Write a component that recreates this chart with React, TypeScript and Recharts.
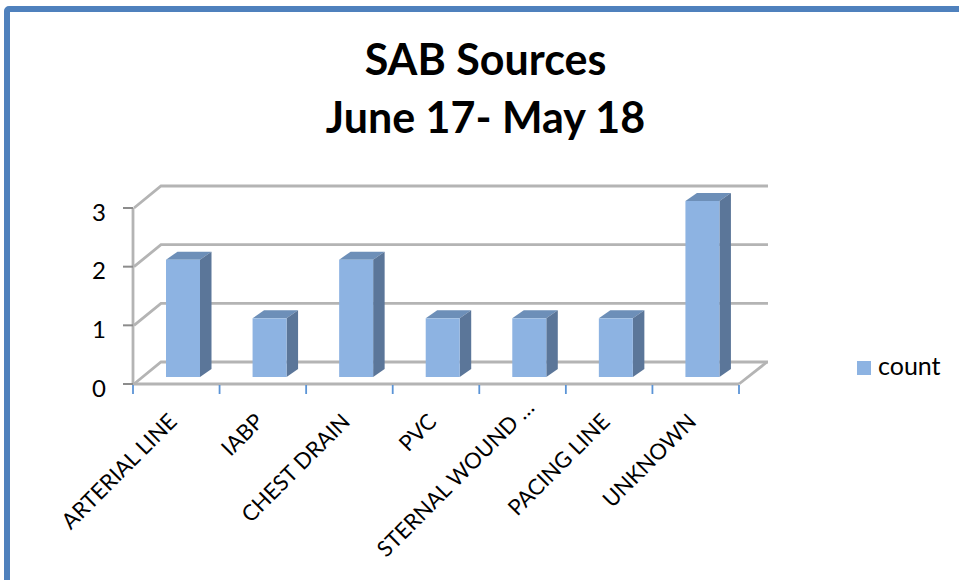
import { BarChart, Bar, XAxis, YAxis, CartesianGrid, Legend } from 'recharts'

const categories = ['ARTERIAL LINE', 'IABP', 'CHEST DRAIN', 'PVC', 'STERNAL WOUND …', 'PACING LINE', 'UNKNOWN']
const counts = [2, 1, 2, 1, 1, 1, 3]
const yTicks = [0, 1, 2, 3]
const titleLines = ['SAB Sources', 'June 17- May 18']

const data = categories.map((name, i) => ({ name, count: counts[i] }))

const FONT = 'Lato, "Open Sans", sans-serif'
const GRID = '#b4b4b4'
const BLUE = '#8db3e2'
const BACK_X = 28
const BACK_Y = 22
const BAND = 606 / categories.length

// back wall line plus the diagonal running down to the y axis
function GridLine(props: any) {
  const { x1, x2, y1, index } = props
  return (
    <g key={`grid-${index}`} fill="none" stroke={GRID} strokeWidth={2.8}>
      <path d={`M${x1 + 1} ${y1} L${x1 + BACK_X} ${y1 - BACK_Y} L${x2 + BACK_X + 1} ${y1 - BACK_Y}`} />
      {index === 0 && <path d={`M${x2} ${y1} L${x2 + BACK_X} ${y1 - BACK_Y}`} />}
    </g>
  )
}

function Bar3D(props: any) {
  const { x, y, width, height } = props
  const left = x + 7
  const top = y - 7
  const right = left + width
  const bottom = top + height
  const dx = 11.5
  const dy = 8
  return (
    <g>
      <path d={`M${left} ${top} L${left + dx} ${top - dy} L${right + dx} ${top - dy} L${right} ${top} Z`} fill="#6d8fb8" />
      <path d={`M${right} ${top} L${right + dx} ${top - dy} L${right + dx} ${bottom - dy} L${right} ${bottom} Z`} fill="#5b7699" />
      <rect x={left} y={top} width={width} height={height} fill={BLUE} />
    </g>
  )
}

function CategoryTick(props: any) {
  const { x, y, payload, index } = props
  const left = x - BAND / 2
  const top = y - 7
  // the cut-off label sits further along its slant than the others
  const cut = String(payload.value).endsWith('…')
  const tx = x + (cut ? 13 : 2)
  const ty = y + (cut ? 17 : 31)
  return (
    <g>
      <line x1={left} x2={left} y1={top} y2={top + 9} stroke="#5b94d6" strokeWidth={1.8} />
      {index === categories.length - 1 && (
        <line x1={left + BAND} x2={left + BAND} y1={top} y2={top + 9} stroke="#5b94d6" strokeWidth={1.8} />
      )}
      <text
        x={tx}
        y={ty}
        textAnchor="end"
        transform={`rotate(-45 ${tx} ${ty})`}
        fontFamily={FONT}
        fontSize={22}
        fill="#000"
      >
        {payload.value}
      </text>
    </g>
  )
}

export default function App() {
  return (
    <div style={{ position: 'absolute', left: 0, top: 0, width: 959, height: 580, overflow: 'hidden', background: '#fff' }}>
      <div
        style={{
          position: 'absolute',
          left: 4,
          top: 6,
          width: 1000,
          height: 700,
          border: '6px solid #4f81bd',
          borderRadius: 5,
        }}
      />
      <div
        style={{
          position: 'absolute',
          left: 0,
          top: 30,
          width: 971,
          textAlign: 'center',
          fontFamily: FONT,
          fontWeight: 700,
          fontSize: 43,
          lineHeight: '58px',
          color: '#000',
        }}
      >
        {titleLines.map((line) => (
          <div key={line}>{line}</div>
        ))}
      </div>
      <BarChart
        width={959}
        height={580}
        data={data}
        margin={{ top: 208, right: 110, bottom: 0, left: 0 }}
        style={{ position: 'absolute', left: 0, top: 0 }}
      >
        <CartesianGrid vertical={false} horizontal={GridLine} />
        <XAxis
          dataKey="name"
          height={196}
          interval={0}
          tickLine={false}
          axisLine={{ stroke: GRID, strokeWidth: 2.8 }}
          tick={CategoryTick}
        />
        <YAxis
          width={133}
          domain={[0, 3]}
          ticks={yTicks}
          tickSize={10}
          tickLine={{ stroke: '#8c8c8c', strokeWidth: 2 }}
          axisLine={{ stroke: GRID, strokeWidth: 2.8 }}
          tick={{ fill: '#000', fontFamily: FONT, fontSize: 24, dy: 4 }}
          tickMargin={17}
        />
        <Legend
          layout="vertical"
          align="right"
          verticalAlign="top"
          iconType="square"
          iconSize={14}
          formatter={(value) => (
            <span style={{ color: '#000', fontFamily: FONT, fontSize: 25, paddingLeft: 3, position: 'relative', top: 3 }}>
              {value}
            </span>
          )}
          wrapperStyle={{ position: 'absolute', left: 857, top: 347, width: 110 }}
        />
        <Bar dataKey="count" fill={BLUE} barSize={34} shape={Bar3D} isAnimationActive={false} />
      </BarChart>
    </div>
  )
}
